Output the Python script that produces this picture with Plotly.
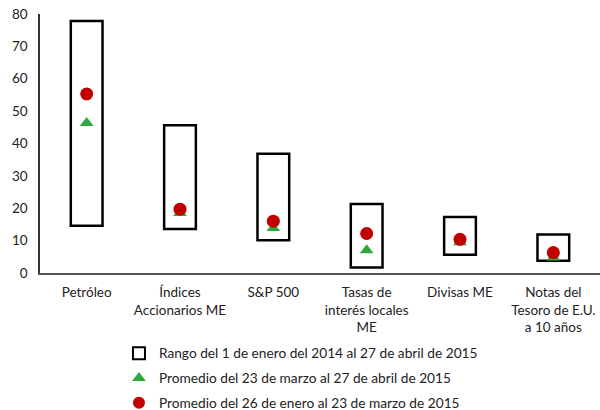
import plotly.graph_objects as go

categories = [
    "Petróleo",
    "Índices<br>Accionarios ME",
    "S&P 500",
    "Tasas de<br>interés locales<br>ME",
    "Divisas ME",
    "Notas del<br>Tesoro de E.U.<br>a 10 años",
]
range_low = [14.6, 13.6, 10.1, 1.7, 5.6, 3.8]
range_high = [77.8, 45.6, 36.8, 21.3, 17.3, 11.9]
avg_mar_abr = [46.3, 18.5, 13.9, 7.0, 9.5, 4.8]
avg_ene_mar = [55.3, 19.7, 16.0, 12.2, 10.4, 6.3]

font_family = "Lato, Open Sans, sans-serif"

fig = go.Figure()

fig.add_trace(go.Bar(
    x=categories,
    y=[h - l for h, l in zip(range_high, range_low)],
    base=range_low,
    width=0.34,
    marker=dict(color="white", line=dict(color="black", width=2.5)),
    name="Rango del 1 de enero del 2014 al 27 de abril de 2015",
    legendgroup="a",
))
fig.add_trace(go.Scatter(
    x=categories, y=avg_mar_abr, mode="markers",
    marker=dict(symbol="triangle-up", size=12, color="#2EAA3C"),
    name="Promedio del 23 de marzo al 27 de abril de 2015",
    legendgroup="b",
))
fig.add_trace(go.Scatter(
    x=categories, y=avg_ene_mar, mode="markers",
    marker=dict(symbol="circle", size=13, color="#C00000"),
    name="Promedio del 26 de enero al 23 de marzo de 2015",
    legendgroup="c",
))

fig.update_layout(
    width=600, height=410,
    margin=dict(l=40, r=0, t=14, b=137, autoexpand=False),
    plot_bgcolor="white", paper_bgcolor="white",
    font=dict(family=font_family, size=13.5, color="#222222"),
    showlegend=True,
    legend=dict(
        x=0.141, y=-0.25, xanchor="left", yanchor="top",
        traceorder="grouped", tracegroupgap=4,
        font=dict(size=13.7), itemwidth=30, itemsizing="constant",
    ),
    xaxis=dict(
        showline=True, linecolor="#555555", linewidth=1.5,
        ticks="", showgrid=False, tickfont=dict(size=13.5),
        automargin=False, ticklabelstandoff=6,
    ),
    yaxis=dict(
        range=[0, 80], dtick=10, showline=True, linecolor="#333333",
        linewidth=1.5, showgrid=False, zeroline=False, ticks="",
        tickfont=dict(size=13.5), automargin=False, ticklabelstandoff=8,
    ),
)

fig.write_html("out.html")
